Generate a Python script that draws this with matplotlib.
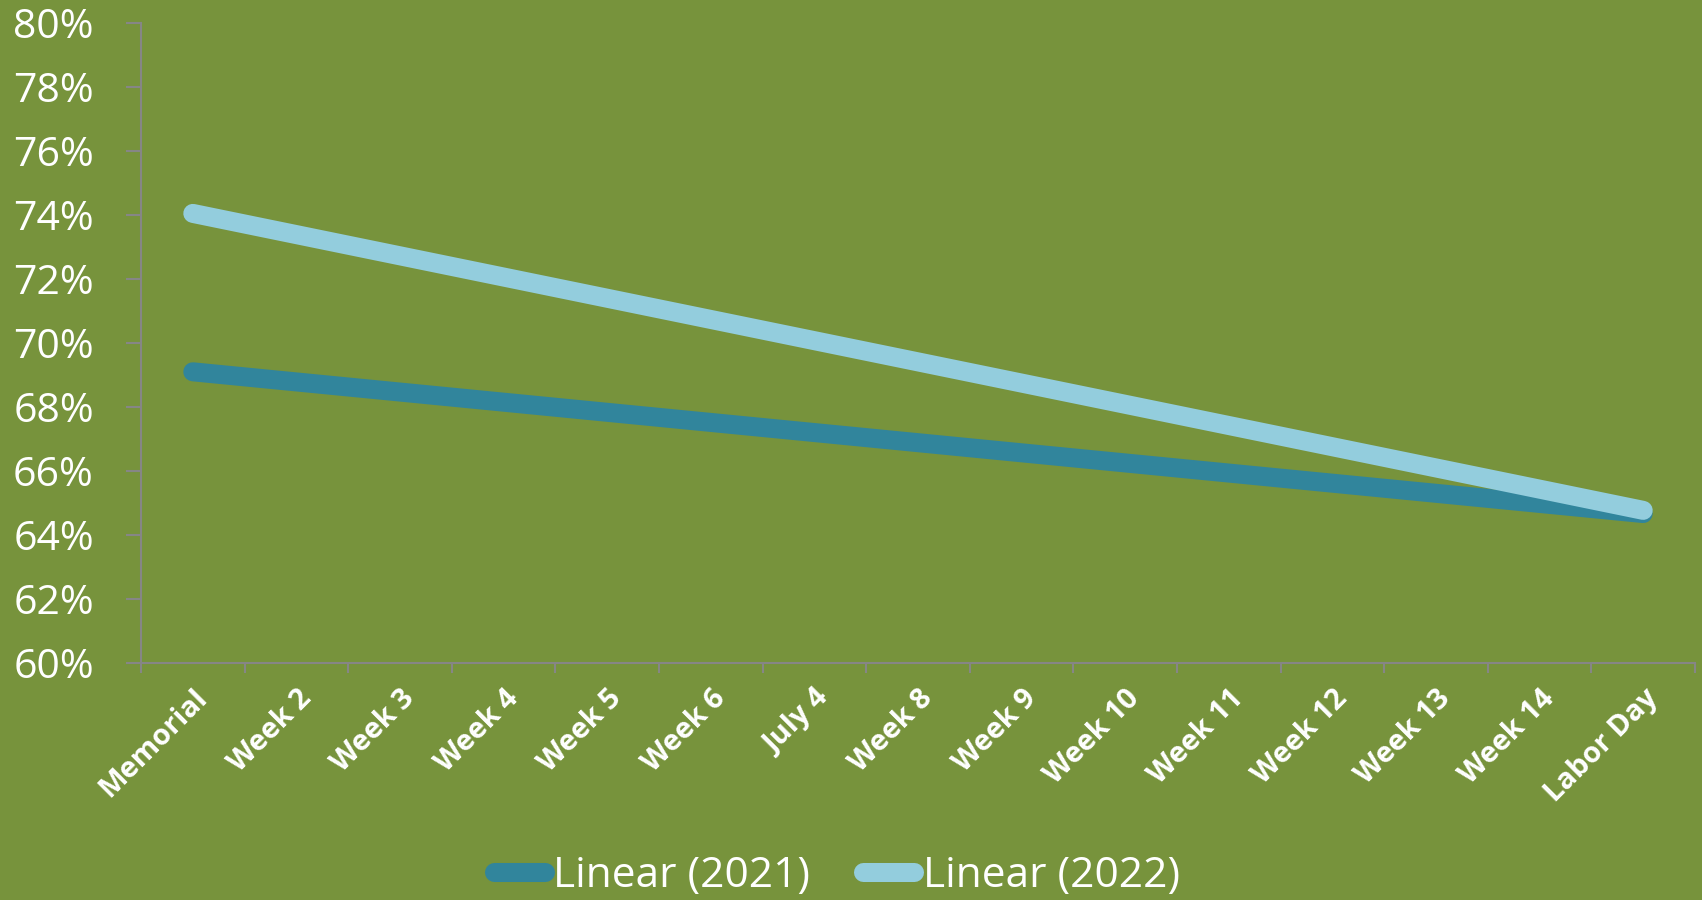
import matplotlib
matplotlib.use('Agg')
import matplotlib.pyplot as plt
from matplotlib.ticker import FixedLocator, FuncFormatter

# categories on the x axis
weeks = ['Memorial', 'Week 2', 'Week 3', 'Week 4', 'Week 5', 'Week 6', 'July 4',
         'Week 8', 'Week 9', 'Week 10', 'Week 11', 'Week 12', 'Week 13',
         'Week 14', 'Labor Day']

# linear trend lines, value at first and last week (percent)
trend_2021 = [69.10, 64.67]
trend_2022 = [74.05, 64.77]
series_names = ['Linear (2021)', 'Linear (2022)']

yticks = [60, 62, 64, 66, 68, 70, 72, 74, 76, 78, 80]

bg = '#77933C'
c2021 = '#31859C'
c2022 = '#93CDDD'
axcol = '#868686'

plt.rcParams['font.family'] = ['Open Sans', 'DejaVu Sans']

fig = plt.figure(figsize=(17.02, 9.0), dpi=100, facecolor=bg)
ax = fig.add_axes([141/1702, 1-663/900, (1695-141)/1702, (663-23)/900])
ax.set_facecolor(bg)

ends = [0, len(weeks)-1]
ax.plot(ends, trend_2021, color=c2021, lw=13.7, solid_capstyle='round', label=series_names[0])
ax.plot(ends, trend_2022, color=c2022, lw=13.7, solid_capstyle='round', label=series_names[1])

ax.set_xlim(-0.5, len(weeks)-0.5)
ax.set_ylim(60, 80)

ax.set_yticks(yticks)
ax.yaxis.set_major_formatter(FuncFormatter(lambda v, p: '%d%%' % v))
ax.tick_params(axis='y', colors=axcol, length=11, width=1.5, pad=23, labelsize=29.5, labelcolor='white')

ax.set_xticks(range(len(weeks)))
ax.set_xticklabels(weeks, rotation=45, ha='right', rotation_mode='anchor',
                   fontsize=21, fontweight='bold', color='white')
ax.tick_params(axis='x', which='major', length=0, pad=15)
ax.xaxis.set_minor_locator(FixedLocator([i - 0.5 for i in range(len(weeks)+1)]))
ax.tick_params(axis='x', which='minor', colors=axcol, length=7, width=1.5)

for s in ['top', 'right']:
    ax.spines[s].set_visible(False)
for s in ['left', 'bottom']:
    ax.spines[s].set_color(axcol)
    ax.spines[s].set_linewidth(1.5)

leg = fig.legend(loc='center', bbox_to_anchor=(837/1702, 1-876/900), ncol=2, frameon=False,
                 handlelength=1.2, handletextpad=0.2, columnspacing=1.25,
                 prop={'family': ['Open Sans'], 'size': 30.5})
for t in leg.get_texts():
    t.set_color('white')

fig.savefig('out.png', dpi=100, facecolor=bg)
